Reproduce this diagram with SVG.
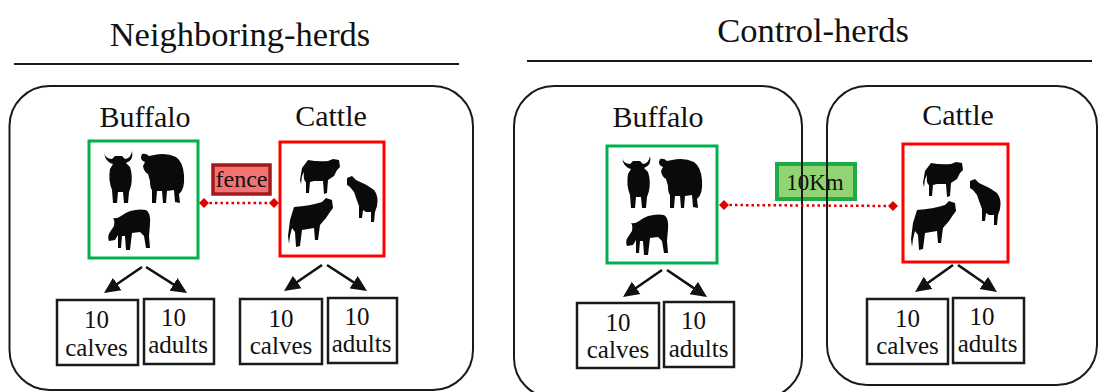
<svg xmlns="http://www.w3.org/2000/svg" width="1100" height="392" viewBox="0 0 1100 392">
<style>
.t{font-family:"Liberation Serif","Times New Roman",serif;fill:#111;text-anchor:middle}
.title{font-size:34.5px}
.hd{font-size:30px}
.bx{font-size:25px}
.cont{fill:none;stroke:#1a1a1a;stroke-width:2}
.rule{stroke:#1a1a1a;stroke-width:2}
.gbox{fill:#fff;stroke:#00b050;stroke-width:3}
.rbox{fill:#fff;stroke:#ff0000;stroke-width:3}
.cnt{fill:#fff;stroke:#1a1a1a;stroke-width:2.5}
.arr{stroke:#111;stroke-width:2.6;fill:none;marker-end:url(#ah)}
.dot{stroke:#e00000;stroke-width:2.5;stroke-dasharray:2.5 3;fill:none;marker-start:url(#dm);marker-end:url(#dm)}
.sil{fill:#0a0a0a}
</style>
<defs>
<marker id="ah" markerUnits="userSpaceOnUse" markerWidth="16" markerHeight="16" refX="13" refY="8" orient="auto">
<path d="M0,0.5 L16,8 L0,15.5 z" fill="#111"/>
</marker>
<marker id="dm" markerUnits="userSpaceOnUse" markerWidth="10" markerHeight="10" refX="5" refY="5" orient="0">
<path d="M5,0 L10,5 L5,10 L0,5 z" fill="#e00000"/>
</marker>
<g id="buffaloHerd" class="sil">
<path d="M16 12 Q17 19 24 19 L27 16 L34 16 L37 19 Q43 18 44 11 Q46 20 38 23 L42 27 Q45 36 43 46 L41 52 L40 63 L36 63 L35 52 L30 52 L29 63 L25 63 L24 50 Q20 40 22 29 L25 24 Q17 22 16 12 Z"/>
<path d="M54 14 Q51 20 57 22 L55 26 Q56 32 60 34 L62 41 Q62 48 64 50 L64 63 L68 63 L69 51 L74 51 L75 63 L78 63 L79 51 L86 50 L87 62 L92 63 L91 54 Q97 50 96 35 Q95 22 88 17 Q78 12 66 15 L61 16 Q58 13 54 14 Z"/>
<path d="M33 76 Q44 68 58 70 Q63 73 62 84 L61 96 L62 108 L58 108 L56 96 L52 92 L44 93 L42 110 L38 110 L37 96 L34 96 L33 108 L30 108 L30 95 L27 100 L21 101 Q19 96 22 92 L26 86 Q27 80 25 78 Q29 79 33 76 Z"/>
</g>
<g id="cattleHerd" class="sil">
<path d="M38 20 Q48 22 58 21 L63 19 L69 20 L70 27 L67 30 L64 36 L58 40 L57 53 L54 54 L53 41 L44 41 L40 42 L39 53 L36 53 L36 42 Q33 40 34 32 L32 36 L31 44 L30 40 L32 28 Z"/>
<path d="M77 38 L82 36 L86 40 Q96 44 104 50 Q109 56 107 66 L105 72 L104 82 L101 82 L101 72 L96 72 L93 70 L92 78 L89 78 L89 66 Q86 58 84 52 L80 47 L77 45 Z"/>
<path d="M24 67 Q40 66 52 62 L56 58 L62 60 L63 68 L60 72 L56 78 L50 85 L48 100 L45 100 L44 88 L32 90 L30 106 L26 107 L25 92 L22 88 L20 96 L19 104 L18 96 L20 80 Z"/>
</g>
</defs>
<rect width="1100" height="392" fill="#fff"/>

<g id="title-neighboring">
<text class="t title" x="240" y="46">Neighboring-herds</text>
<line class="rule" x1="14" y1="64" x2="459" y2="64"/>
</g>
<g id="title-control">
<text class="t title" x="813" y="42">Control-herds</text>
<line class="rule" x1="527" y1="61" x2="1092" y2="61"/>
</g>

<g id="label-fence">
<rect x="213" y="165" width="57" height="29" fill="#f27373" stroke="#a31818" stroke-width="3.5"/>
<text class="t" x="241.5" y="187" font-size="24">fence</text>
</g>
<g id="label-10km">
<rect x="777" y="164" width="78" height="35" fill="#7fcc5c" fill-opacity="0.85" stroke="#1faa48" stroke-width="4"/>
<text class="t" x="815" y="190" font-size="23">10Km</text>
</g>

<g id="container-neighboring">
<rect class="cont" x="9.5" y="86" width="463.5" height="304" rx="40" ry="40"/>
</g>
<g id="container-control-buffalo">
<rect class="cont" x="514" y="86" width="288" height="312" rx="40" ry="40"/>
</g>
<g id="container-control-cattle">
<rect class="cont" x="827" y="86" width="270" height="299" rx="40" ry="40"/>
</g>

<g id="n-buffalo">
<text class="t hd" x="145" y="127">Buffalo</text>
<rect class="gbox" x="89" y="141" width="109" height="117"/>
<use href="#buffaloHerd" transform="translate(88,140)"/>
</g>
<g id="n-cattle">
<text class="t hd" x="331" y="126">Cattle</text>
<rect class="rbox" x="280" y="142" width="104" height="114"/>
<use href="#cattleHerd" transform="translate(270,140)"/>
</g>
<g id="n-buffalo-calves">
<rect class="cnt" x="57" y="300" width="81" height="65"/>
<text class="t bx" x="96.5" y="328">10</text>
<text class="t bx" x="96.5" y="356">calves</text>
</g>
<g id="n-buffalo-adults">
<rect class="cnt" x="144" y="299" width="70" height="65"/>
<text class="t bx" x="173.5" y="326">10</text>
<text class="t bx" x="178" y="353">adults</text>
</g>
<g id="n-cattle-calves">
<rect class="cnt" x="240" y="299" width="82" height="65"/>
<text class="t bx" x="281" y="327">10</text>
<text class="t bx" x="281" y="354">calves</text>
</g>
<g id="n-cattle-adults">
<rect class="cnt" x="328" y="298" width="69" height="65"/>
<text class="t bx" x="357" y="325">10</text>
<text class="t bx" x="361.5" y="352">adults</text>
</g>

<g id="c-buffalo">
<text class="t hd" x="658" y="127">Buffalo</text>
<rect class="gbox" x="607" y="146" width="110" height="117"/>
<use href="#buffaloHerd" transform="translate(606,145)"/>
</g>
<g id="c-cattle">
<text class="t hd" x="958" y="125">Cattle</text>
<rect class="rbox" x="903" y="144" width="105" height="118"/>
<use href="#cattleHerd" transform="translate(893,143)"/>
</g>
<g id="c-buffalo-calves">
<rect class="cnt" x="577" y="303" width="82" height="65"/>
<text class="t bx" x="618" y="331">10</text>
<text class="t bx" x="618" y="358">calves</text>
</g>
<g id="c-buffalo-adults">
<rect class="cnt" x="664" y="302" width="70" height="65"/>
<text class="t bx" x="693.5" y="329">10</text>
<text class="t bx" x="698.5" y="357">adults</text>
</g>
<g id="c-cattle-calves">
<rect class="cnt" x="867" y="299" width="81" height="65"/>
<text class="t bx" x="907.5" y="327">10</text>
<text class="t bx" x="907.5" y="354">calves</text>
</g>
<g id="c-cattle-adults">
<rect class="cnt" x="953" y="298" width="71" height="65"/>
<text class="t bx" x="982" y="325">10</text>
<text class="t bx" x="987.5" y="352">adults</text>
</g>

<g id="connectors">
<line class="dot" x1="204" y1="203" x2="274" y2="203"/>
<line class="dot" x1="724" y1="205" x2="893" y2="206"/>
<line class="arr" x1="142" y1="267" x2="106.5" y2="291.3"/>
<line class="arr" x1="146" y1="267" x2="184.5" y2="291.3"/>
<line class="arr" x1="322" y1="265" x2="286.5" y2="289.3"/>
<line class="arr" x1="327" y1="265" x2="364.5" y2="289.3"/>
<line class="arr" x1="662" y1="270" x2="625.5" y2="295.3"/>
<line class="arr" x1="667" y1="270" x2="704.5" y2="295.3"/>
<line class="arr" x1="953" y1="265" x2="917.5" y2="290.3"/>
<line class="arr" x1="958" y1="265" x2="994.5" y2="290.3"/>
</g>
</svg>
